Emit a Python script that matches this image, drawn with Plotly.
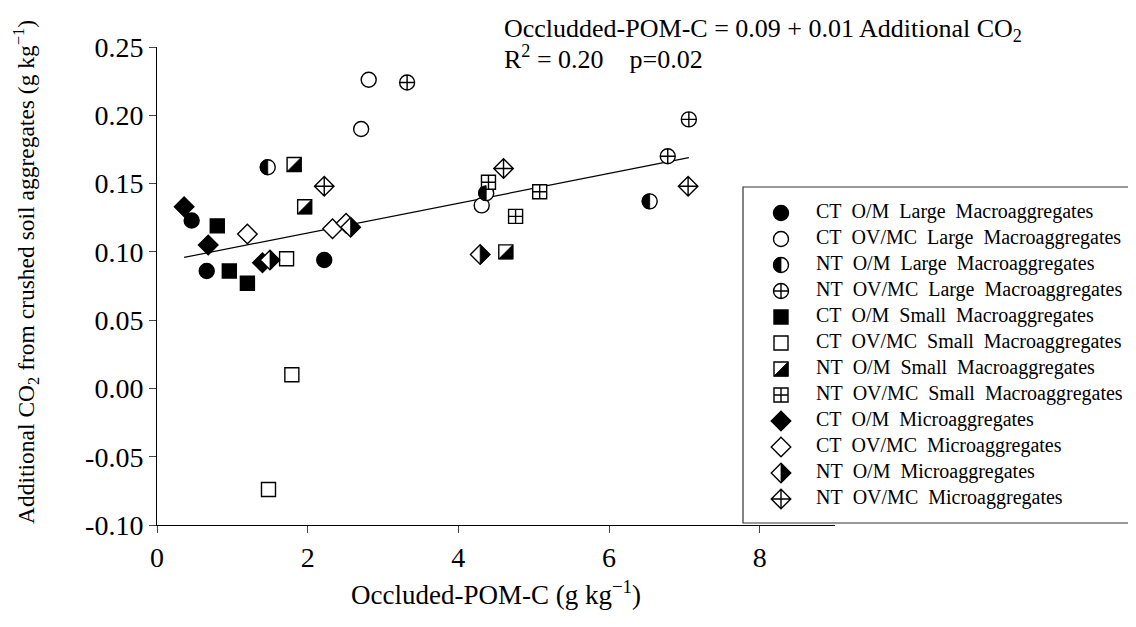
import plotly.graph_objects as go

# Occluded-POM-C (g kg-1) on x, additional CO2 from crushed aggregates (g kg-1) on y
CT_OM_LARGE_X = [0.46, 0.66, 2.22]
CT_OM_LARGE_Y = [0.123, 0.086, 0.094]
CT_OVMC_LARGE_X = [2.71, 2.81, 4.31]
CT_OVMC_LARGE_Y = [0.190, 0.226, 0.134]
NT_OM_LARGE_X = [1.47, 4.37, 6.54]
NT_OM_LARGE_Y = [0.162, 0.143, 0.137]
NT_OVMC_LARGE_X = [3.32, 6.78, 7.06]
NT_OVMC_LARGE_Y = [0.224, 0.170, 0.197]

CT_OM_SMALL_X = [0.80, 0.96, 1.20]
CT_OM_SMALL_Y = [0.119, 0.086, 0.077]
CT_OVMC_SMALL_X = [1.48, 1.72, 1.79]
CT_OVMC_SMALL_Y = [-0.074, 0.095, 0.010]
NT_OM_SMALL_X = [1.82, 1.96, 4.63]
NT_OM_SMALL_Y = [0.164, 0.133, 0.100]
NT_OVMC_SMALL_X = [4.40, 4.76, 5.08]
NT_OVMC_SMALL_Y = [0.151, 0.126, 0.144]

CT_OM_MICRO_X = [0.36, 0.68, 1.40]
CT_OM_MICRO_Y = [0.133, 0.105, 0.092]
CT_OVMC_MICRO_X = [1.20, 2.33, 2.51]
CT_OVMC_MICRO_Y = [0.113, 0.117, 0.121]
NT_OM_MICRO_X = [1.50, 2.57, 4.29]
NT_OM_MICRO_Y = [0.094, 0.118, 0.098]
NT_OVMC_MICRO_X = [2.22, 4.60, 7.05]
NT_OVMC_MICRO_Y = [0.148, 0.161, 0.148]

# regression as printed on the chart
FIT_INTERCEPT = 0.092
FIT_SLOPE = 0.0109

X_TICKS = [0, 2, 4, 6, 8]
Y_TICKS = [-0.10, -0.05, 0.00, 0.05, 0.10, 0.15, 0.20, 0.25]
Y_TICK_LABELS = ["-0.10", "-0.05", "0.00", "0.05", "0.10", "0.15", "0.20", "0.25"]

SERIF = "Liberation Serif, Times New Roman, serif"

# black half of the half-filled symbols, in pixels around the point (y up)
K = 0.5523 * 7.5
HALF_LEFT_CIRCLE = (f"M0,7.5 C{-K:.2f},7.5 -7.5,{K:.2f} -7.5,0 "
                    f"C-7.5,{-K:.2f} {-K:.2f},-7.5 0,-7.5 Z")
HALF_SQUARE_SE = "M7,7 L7,-7 L-7,-7 Z"
HALF_DIAMOND_RIGHT = "M0,9.75 L9.75,0 L0,-9.75 Z"

# (label, x, y, symbol, fill, size, black half path)
SERIES = [
    ("CT  O/M  Large  Macroaggregates", CT_OM_LARGE_X, CT_OM_LARGE_Y, "circle", "black", 15, None),
    ("CT  OV/MC  Large  Macroaggregates", CT_OVMC_LARGE_X, CT_OVMC_LARGE_Y, "circle", "white", 15, None),
    ("NT  O/M  Large  Macroaggregates", NT_OM_LARGE_X, NT_OM_LARGE_Y, "circle", "white", 15, HALF_LEFT_CIRCLE),
    ("NT  OV/MC  Large  Macroaggregates", NT_OVMC_LARGE_X, NT_OVMC_LARGE_Y, "circle-cross", "white", 15, None),
    ("CT  O/M  Small  Macroaggregates", CT_OM_SMALL_X, CT_OM_SMALL_Y, "square", "black", 14, None),
    ("CT  OV/MC  Small  Macroaggregates", CT_OVMC_SMALL_X, CT_OVMC_SMALL_Y, "square", "white", 14, None),
    ("NT  O/M  Small  Macroaggregates", NT_OM_SMALL_X, NT_OM_SMALL_Y, "square", "white", 14, HALF_SQUARE_SE),
    ("NT  OV/MC  Small  Macroaggregates", NT_OVMC_SMALL_X, NT_OVMC_SMALL_Y, "square-cross", "white", 14, None),
    ("CT  O/M  Microaggregates", CT_OM_MICRO_X, CT_OM_MICRO_Y, "diamond", "black", 15, None),
    ("CT  OV/MC  Microaggregates", CT_OVMC_MICRO_X, CT_OVMC_MICRO_Y, "diamond", "white", 15, None),
    ("NT  O/M  Microaggregates", NT_OM_MICRO_X, NT_OM_MICRO_Y, "diamond", "white", 15, HALF_DIAMOND_RIGHT),
    ("NT  OV/MC  Microaggregates", NT_OVMC_MICRO_X, NT_OVMC_MICRO_Y, "diamond-cross", "white", 15, None),
]

# frame in figure pixels (page has an 8px body margin)
PLOT_LEFT, PLOT_RIGHT, PLOT_TOP, PLOT_BOTTOM = 149, 827, 39, 517
FIG_W, FIG_H = 1136, 627
LEG_LEFT, LEG_TOP, LEG_BOTTOM = 735, 179, 515
LEG_ROW0, LEG_STEP = 205, 26
LEG_SYM_X, LEG_TEXT_X = 773, 808


def add_points(fig, x, y, symbol, fill, size, half, xaxis="x", yaxis="y"):
    fig.add_trace(go.Scatter(
        x=x, y=y, mode="markers", xaxis=xaxis, yaxis=yaxis, showlegend=False,
        marker=dict(symbol=symbol, size=size, color=fill,
                    line=dict(color="black", width=1.4)),
        cliponaxis=False,
    ))
    if half:
        xref, yref = xaxis, yaxis
        for xv, yv in zip(x, y):
            fig.add_shape(type="path", xref=xref, yref=yref,
                          xsizemode="pixel", ysizemode="pixel",
                          xanchor=xv, yanchor=yv, path=half,
                          fillcolor="black", line=dict(color="black", width=0.8),
                          layer="above")


fig = go.Figure()

all_x = [v for s in SERIES for v in s[1]]
fit_x = [min(all_x), max(all_x)]
fig.add_trace(go.Scatter(
    x=fit_x, y=[FIT_INTERCEPT + FIT_SLOPE * v for v in fit_x],
    mode="lines", line=dict(color="black", width=1.2), showlegend=False,
))

for label, x, y, symbol, fill, size, half in SERIES:
    add_points(fig, x, y, symbol, fill, size, half)

# legend panel drawn on its own pixel-scaled axes
paper_w = FIG_W - PLOT_LEFT
paper_h = PLOT_BOTTOM - PLOT_TOP
leg_rows = [LEG_ROW0 + LEG_STEP * i for i in range(len(SERIES))]
for i, (label, x, y, symbol, fill, size, half) in enumerate(SERIES):
    add_points(fig, [LEG_SYM_X], [leg_rows[i]], symbol, fill, size, half, "x2", "y2")
fig.add_trace(go.Scatter(
    x=[LEG_TEXT_X] * len(SERIES), y=leg_rows, mode="text",
    text=[s[0].replace("  ", "\u00a0 ") for s in SERIES],
    textposition="middle right", xaxis="x2", yaxis="y2", showlegend=False,
    textfont=dict(family=SERIF, size=20, color="black"), cliponaxis=False,
))

fig.add_shape(type="rect", xref="x2", yref="y2", x0=LEG_LEFT, x1=FIG_W + 20,
              y0=LEG_TOP, y1=LEG_BOTTOM, line=dict(color="#333333", width=1.2),
              layer="below")


def px_x(px):
    return (px - PLOT_LEFT) / paper_w


def px_y(py):
    return (PLOT_BOTTOM - py) / paper_h


fig.add_annotation(
    xref="paper", yref="paper", x=px_x(494), y=px_y(22),
    xanchor="left", yanchor="middle", showarrow=False,
    text="Occludded-POM-C = 0.09 + 0.01 Additional CO<sub>2</sub>",
    font=dict(family=SERIF, size=26, color="black"),
)
fig.add_annotation(
    xref="paper", yref="paper", x=px_x(494), y=px_y(49),
    xanchor="left", yanchor="middle", showarrow=False,
    text="R<sup>2</sup> = 0.20 \u00a0\u00a0 p=0.02",
    font=dict(family=SERIF, size=26, color="black"),
)
fig.add_annotation(
    xref="paper", yref="paper", x=px_x(18), y=px_y(264),
    xanchor="center", yanchor="middle", showarrow=False, textangle=-90,
    text="Additional CO<sub>2</sub> from crushed soil aggregates (g kg<sup>\u22121</sup>)",
    font=dict(family=SERIF, size=23.5, color="black"),
)

fig.update_layout(
    width=FIG_W, height=FIG_H,
    paper_bgcolor="white", plot_bgcolor="rgba(0,0,0,0)",
    margin=dict(l=PLOT_LEFT, r=0, t=PLOT_TOP, b=FIG_H - PLOT_BOTTOM),
    font=dict(family=SERIF, color="black"),
    xaxis=dict(
        domain=[0, (PLOT_RIGHT - PLOT_LEFT) / paper_w], range=[0, 9],
        tickvals=X_TICKS, ticks="outside", ticklen=7, tickwidth=1,
        showline=True, linecolor="black", linewidth=1, showgrid=False, zeroline=False,
        tickfont=dict(size=28),
        title=dict(text="Occluded-POM-C (g kg<sup>\u22121</sup>)", font=dict(size=27), standoff=13),
    ),
    yaxis=dict(
        range=[-0.10, 0.25], tickvals=Y_TICKS, ticktext=Y_TICK_LABELS,
        ticks="outside", ticklen=7, tickwidth=1,
        showline=True, linecolor="black", linewidth=1, showgrid=False, zeroline=False,
        tickfont=dict(size=28),
    ),
    xaxis2=dict(domain=[0, 1], range=[PLOT_LEFT, FIG_W], visible=False, anchor="y2"),
    yaxis2=dict(domain=[0, 1], range=[PLOT_BOTTOM, PLOT_TOP], visible=False, anchor="x2"),
)

fig.write_html("out.html")
